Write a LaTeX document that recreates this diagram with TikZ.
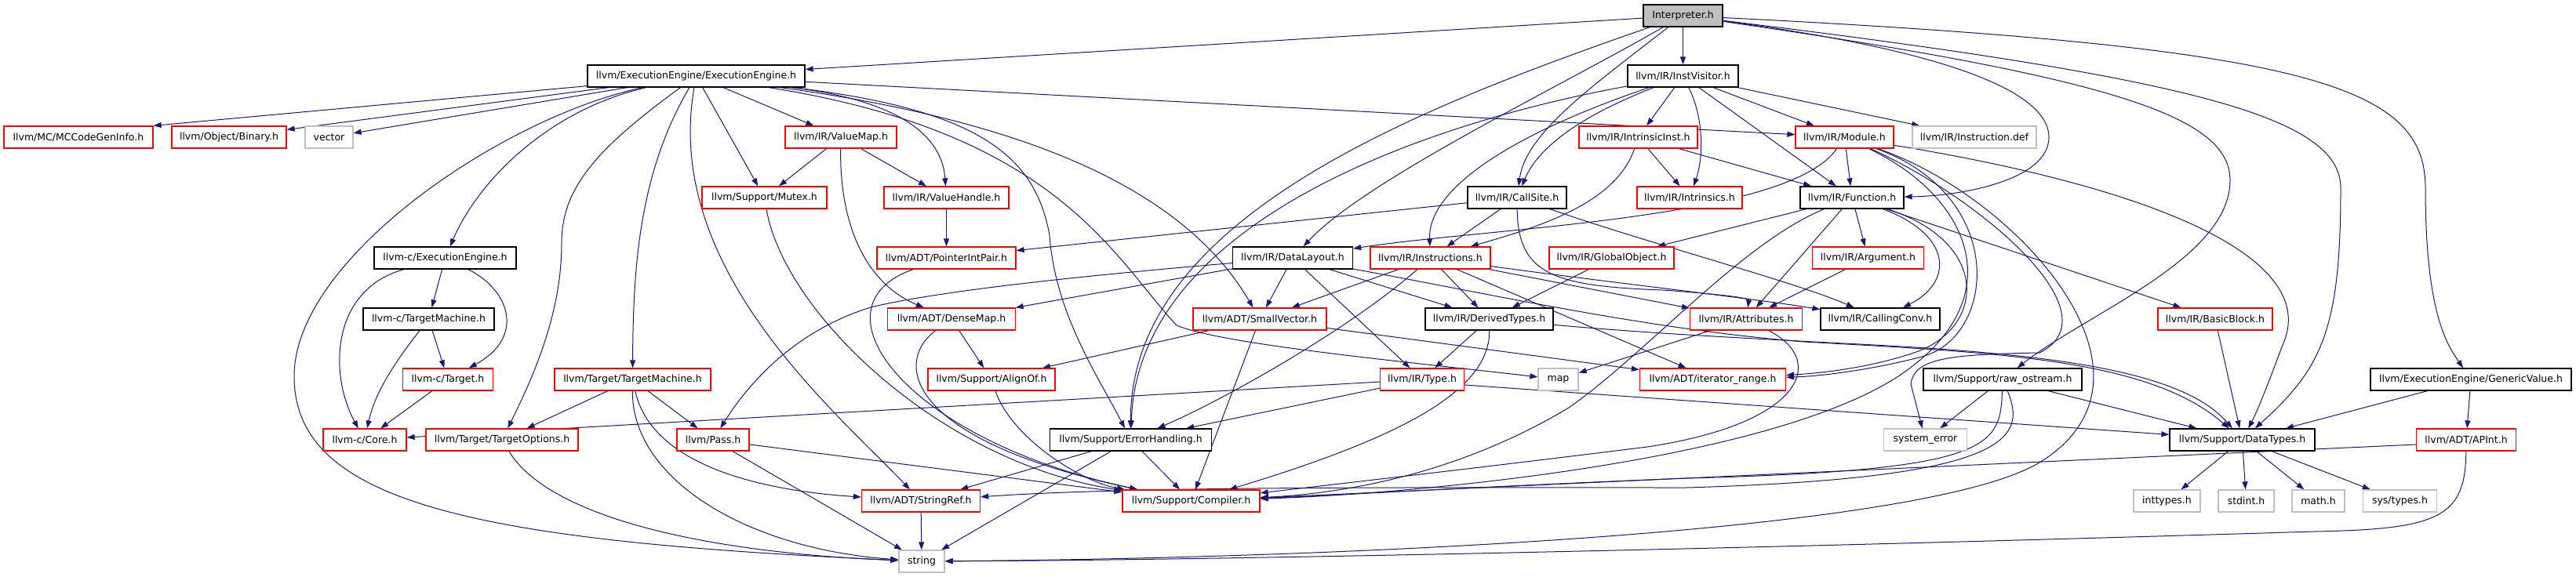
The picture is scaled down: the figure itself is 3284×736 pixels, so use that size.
\documentclass[tikz,border=0pt]{standalone}
\usepackage{fontspec}
\setmainfont{DejaVu Sans}
\usetikzlibrary{arrows.meta}
\definecolor{edgecol}{HTML}{191970}
\definecolor{grayb}{HTML}{BFBFBF}
\pgfdeclarelayer{bg}
\pgfsetlayers{bg,main}
\begin{document}
\begin{tikzpicture}[x=1pt,y=-1pt,
  box/.style={rectangle, minimum height=28pt, inner sep=0pt, fill=white, line width=1.3pt, font=\fontsize{12.5}{15}\selectfont, text=black},
  bk/.style={box, draw=black},
  rd/.style={box, draw=red},
  gy/.style={box, draw=grayb},
  root/.style={box, draw=black, fill=grayb},
  dep/.style={draw=edgecol, line width=1pt, -{Triangle[length=10pt,width=7pt]}}]
\useasboundingbox (0,0) rectangle (3284,736);
% nodes
\node[root, minimum width=101pt] (interp) at (2145.5,20) {Interpreter.h};
\node[bk, minimum width=277pt] (ee) at (887.5,97) {llvm/ExecutionEngine/ExecutionEngine.h};
\node[bk, minimum width=141pt] (iv) at (2145.5,97) {llvm/IR/InstVisitor.h};
\node[rd, minimum width=190pt] (mccg) at (100,175) {llvm/MC/MCCodeGenInfo.h};
\node[rd, minimum width=146pt] (bin) at (292,175) {llvm/Object/Binary.h};
\node[gy, minimum width=61pt] (vector) at (419.5,175) {vector};
\node[rd, minimum width=142pt] (vmap) at (1072,175) {llvm/IR/ValueMap.h};
\node[rd, minimum width=151pt] (iinst) at (2088.5,175) {llvm/IR/IntrinsicInst.h};
\node[rd, minimum width=125pt] (module) at (2351.5,175) {llvm/IR/Module.h};
\node[gy, minimum width=158pt] (idef) at (2517,175) {llvm/IR/Instruction.def};
\node[rd, minimum width=159pt] (mutex) at (974.5,252) {llvm/Support/Mutex.h};
\node[rd, minimum width=159pt] (vh) at (1206.5,252) {llvm/IR/ValueHandle.h};
\node[bk, minimum width=126pt] (cs) at (1934,252) {llvm/IR/CallSite.h};
\node[rd, minimum width=134pt] (intr) at (2154,252) {llvm/IR/Intrinsics.h};
\node[bk, minimum width=132pt] (func) at (2361,252) {llvm/IR/Function.h};
\node[bk, minimum width=181pt] (cee) at (567.5,329) {llvm-c/ExecutionEngine.h};
\node[rd, minimum width=177pt] (pip) at (1206.5,329) {llvm/ADT/PointerIntPair.h};
\node[bk, minimum width=153pt] (dl) at (1648,329) {llvm/IR/DataLayout.h};
\node[rd, minimum width=153pt] (instrs) at (1823.5,329) {llvm/IR/Instructions.h};
\node[rd, minimum width=159pt] (gobj) at (2054.5,329) {llvm/IR/GlobalObject.h};
\node[rd, minimum width=142pt] (arg) at (2381.5,329) {llvm/IR/Argument.h};
\node[bk, minimum width=167pt] (ctm) at (546.5,407) {llvm-c/TargetMachine.h};
\node[rd, minimum width=163pt] (dmap) at (1213,407) {llvm/ADT/DenseMap.h};
\node[rd, minimum width=170pt] (svec) at (1606,407) {llvm/ADT/SmallVector.h};
\node[bk, minimum width=163pt] (dt) at (1898.5,407) {llvm/IR/DerivedTypes.h};
\node[rd, minimum width=143pt] (attr) at (2226,407) {llvm/IR/Attributes.h};
\node[bk, minimum width=152pt] (cc) at (2397,407) {llvm/IR/CallingConv.h};
\node[rd, minimum width=146pt] (bb) at (2824,407) {llvm/IR/BasicBlock.h};
\node[rd, minimum width=115pt] (ctarget) at (571,484) {llvm-c/Target.h};
\node[rd, minimum width=199pt] (ttm) at (806.5,484) {llvm/Target/TargetMachine.h};
\node[rd, minimum width=162pt] (align) at (1264,484) {llvm/Support/AlignOf.h};
\node[rd, minimum width=107pt] (type) at (1813,484) {llvm/IR/Type.h};
\node[gy, minimum width=51pt] (map) at (1986.5,484) {map};
\node[rd, minimum width=186pt] (irange) at (2183.5,484) {llvm/ADT/iterator\_range.h};
\node[bk, minimum width=202pt] (ros) at (2553,484) {llvm/Support/raw\_ostream.h};
\node[bk, minimum width=256pt] (gv) at (3150,484) {llvm/ExecutionEngine/GenericValue.h};
\node[rd, minimum width=106pt] (core) at (465,561) {llvm-c/Core.h};
\node[rd, minimum width=194pt] (topt) at (640,561) {llvm/Target/TargetOptions.h};
\node[rd, minimum width=92pt] (pass) at (909,561) {llvm/Pass.h};
\node[bk, minimum width=206pt] (eh) at (1441.5,561) {llvm/Support/ErrorHandling.h};
\node[gy, minimum width=106pt] (syserr) at (2454.5,561) {system\_error};
\node[bk, minimum width=185pt] (dtypes) at (2858.5,561) {llvm/Support/DataTypes.h};
\node[rd, minimum width=127pt] (apint) at (3144,561) {llvm/ADT/APInt.h};
\node[rd, minimum width=151pt] (sref) at (1174,639) {llvm/ADT/StringRef.h};
\node[rd, minimum width=175pt] (comp) at (1518.5,639) {llvm/Support/Compiler.h};
\node[gy, minimum width=85pt] (inttypes) at (2762.5,639) {inttypes.h};
\node[gy, minimum width=71pt] (stdint) at (2863.5,639) {stdint.h};
\node[gy, minimum width=67pt] (math) at (2955.5,639) {math.h};
\node[gy, minimum width=94pt] (systypes) at (3059.5,639) {sys/types.h};
\node[gy, minimum width=58pt] (string) at (1175,716) {string};
\begin{pgfonlayer}{bg}
\fill[white] (0,0) rectangle (3284,736);
% Interpreter.h
\draw[dep] (interp) -- (ee);
\draw[dep] (interp) -- (iv);
\draw[dep] (interp) .. controls (1990,110) and (1740,230) .. (dl);
\draw[dep] (interp) .. controls (2030,110) and (1945,170) .. (cs);
\draw[dep] (interp) .. controls (1800,140) and (1440,280) .. (eh);
\draw[dep] (interp) .. controls (2450,60) and (2612,110) .. (2612,175) .. controls (2612,230) and (2500,250) .. (func);
\draw[dep] (interp) .. controls (2700,100) and (2843,150) .. (2843,230) .. controls (2843,330) and (2660,400) .. (ros);
\draw[dep] (interp) .. controls (2800,100) and (2984,150) .. (2984,240) .. controls (2984,420) and (2960,470) .. (dtypes);
\draw[dep] (interp) .. controls (2950,60) and (3092,110) .. (3092,240) .. controls (3092,400) and (3120,440) .. (gv);
% ExecutionEngine.h
\draw[dep] (ee) -- (mccg.north east);
\draw[dep] (ee) -- (bin);
\draw[dep] (ee) -- (vector);
\draw[dep] (ee) .. controls (700,140) and (610,230) .. (cee);
\draw[dep] (ee) .. controls (640,150) and (375,330) .. (375,480) .. controls (375,640) and (600,690) .. (string);
\draw[dep] (ee) .. controls (760,190) and (716,240) .. (716,310) .. controls (716,400) and (680,480) .. (topt);
\draw[dep] (ee) .. controls (815,220) and (807,340) .. (ttm);
\draw[dep] (ee) .. controls (845,340) and (1060,520) .. (sref);
\draw[dep] (ee) -- (mutex);
\draw[dep] (ee) -- (vmap);
\draw[dep] (ee) .. controls (1120,125) and (1200,160) .. (vh);
\draw[dep] (ee) -- (module);
\draw[dep] (ee) .. controls (1250,140) and (1320,200) .. (1338,300) .. controls (1345,400) and (1400,480) .. (eh);
\draw[dep] (ee) .. controls (1350,160) and (1520,260) .. (svec);
\draw[dep] (ee) .. controls (1350,170) and (1420,330) .. (1500,415) .. controls (1560,440) and (1800,462) .. (map);
% InstVisitor.h
\draw[dep] (iv) -- (iinst);
\draw[dep] (iv) .. controls (2172,150) and (2172,200) .. (intr);
\draw[dep] (iv) -- (module);
\draw[dep] (iv) -- (idef);
\draw[dep] (iv) -- (func);
\draw[dep] (iv) .. controls (2010,150) and (1960,190) .. (cs);
\draw[dep] (iv) .. controls (1930,170) and (1820,240) .. (instrs);
\draw[dep] (iv) .. controls (1800,160) and (1450,290) .. (eh);
% IntrinsicInst.h
\draw[dep] (iinst) -- (intr);
\draw[dep] (iinst) -- (func);
\draw[dep] (iinst) .. controls (2060,260) and (1960,290) .. (instrs);
% Module.h
\draw[dep] (module) -- (func);
\draw[dep] (module) .. controls (2280,280) and (1900,290) .. (dl);
\draw[dep] (module) .. controls (2560,250) and (2545,430) .. (2450,455) .. controls (2385,472) and (2320,480) .. (irange);
\draw[dep] (module) .. controls (2520,250) and (2700,400) .. (2600,450) .. controls (2480,452) and (2440,458) .. (2436,490) -- (syserr);
\draw[dep] (module) .. controls (2750,240) and (2960,330) .. (2910,440) .. controls (2895,480) and (2880,520) .. (dtypes);
\draw[dep] (module) .. controls (2510,250) and (2570,380) .. (2420,480) .. controls (2250,590) and (1800,630) .. (comp);
\draw[dep] (module) .. controls (2570,250) and (2780,480) .. (2600,590) .. controls (2450,680) and (1700,712) .. (string);
% ValueMap.h, Mutex.h, ValueHandle.h, PointerIntPair.h
\draw[dep] (vmap) -- (mutex);
\draw[dep] (vmap) -- (vh);
\draw[dep] (vmap) .. controls (1070,280) and (1100,360) .. (dmap);
\draw[dep] (mutex) .. controls (1000,400) and (1200,590) .. (comp);
\draw[dep] (vh) -- (pip);
\draw[dep] (pip) .. controls (1030,390) and (1150,560) .. (comp);
% CallSite.h
\draw[dep] (cs) -- (pip);
\draw[dep] (cs) -- (instrs);
\draw[dep] (cs) .. controls (1935,350) and (1980,365) .. (2120,370) .. controls (2190,375) and (2230,380) .. (attr);
\draw[dep] (cs) .. controls (2100,310) and (2290,360) .. (cc);
% Function.h
\draw[dep] (func) -- (gobj);
\draw[dep] (func) -- (attr);
\draw[dep] (func) .. controls (2220,310) and (2100,450) .. (2000,520) .. controls (1850,610) and (1700,630) .. (comp);
\draw[dep] (func) -- (arg);
\draw[dep] (func) .. controls (2490,300) and (2490,360) .. (cc);
\draw[dep] (func) .. controls (2540,310) and (2530,420) .. (2440,450) .. controls (2380,470) and (2320,476) .. (irange);
\draw[dep] (func) -- (bb);
% llvm-c
\draw[dep] (cee) .. controls (420,370) and (420,480) .. (core);
\draw[dep] (cee) -- (ctm);
\draw[dep] (cee) .. controls (650,370) and (670,430) .. (ctarget);
\draw[dep] (ctm) -- (ctarget);
\draw[dep] (ctm) .. controls (505,460) and (478,500) .. (core);
\draw[dep] (ctarget) -- (core);
% DataLayout.h
\draw[dep] (dl) -- (dmap);
\draw[dep] (dl) -- (svec);
\draw[dep] (dl) -- (dt);
\draw[dep] (dl) -- (type);
\draw[dep] (dl) .. controls (1400,350) and (1200,370) .. (1110,392) .. controls (1020,420) and (960,480) .. (pass);
\draw[dep] (dl) .. controls (1900,375) and (2100,420) .. (2300,436) .. controls (2550,450) and (2740,458) .. (dtypes);
% Instructions.h
\draw[dep] (instrs) -- (svec);
\draw[dep] (instrs) .. controls (1720,420) and (1560,510) .. (eh);
\draw[dep] (instrs) -- (dt);
\draw[dep] (instrs) -- (irange);
\draw[dep] (instrs) -- (attr);
\draw[dep] (instrs) .. controls (2050,360) and (2230,380) .. (cc);
% others
\draw[dep] (gobj) -- (dt);
\draw[dep] (arg) -- (attr);
\draw[dep] (dmap) -- (align);
\draw[dep] (dmap) .. controls (1140,460) and (1150,560) .. (comp);
\draw[dep] (svec) -- (align);
\draw[dep] (svec) -- (comp);
\draw[dep] (svec) -- (irange);
\draw[dep] (dt) -- (type);
\draw[dep] (dt) .. controls (1900,500) and (1780,560) .. (comp);
\draw[dep] (dt) .. controls (2100,425) and (2200,430) .. (2350,438) .. controls (2600,450) and (2780,470) .. (dtypes);
\draw[dep] (attr) -- (map);
\draw[dep] (attr) .. controls (2330,460) and (2300,540) .. (2100,570) .. controls (1900,595) and (1700,618) .. (comp);
\draw[dep] (bb) -- (dtypes);
\draw[dep] (type) -- (core);
\draw[dep] (type) -- (eh);
\draw[dep] ([yshift=-7pt]type.east) -- (dtypes);
\draw[dep] (ttm) -- (topt);
\draw[dep] (ttm) -- (pass);
\draw[dep] (ttm) .. controls (830,590) and (960,625) .. (sref);
\draw[dep] (ttm) .. controls (805,610) and (950,700) .. (string);
\draw[dep] (align) .. controls (1290,560) and (1380,615) .. (comp);
\draw[dep] (ros) -- (syserr);
\draw[dep] (ros) .. controls (2585,560) and (2560,610) .. (2150,622) .. controls (1800,622) and (1450,620) .. (sref);
\draw[dep] (ros) .. controls (2550,570) and (2540,600) .. (2150,610) .. controls (1900,620) and (1700,632) .. (comp);
\draw[dep] (ros) -- (dtypes);
\draw[dep] (gv) -- (dtypes);
\draw[dep] (gv) -- (apint);
\draw[dep] (topt) .. controls (700,660) and (900,705) .. (string);
\draw[dep] (pass) -- (comp);
\draw[dep] (pass) -- (string);
\draw[dep] (eh) -- (sref);
\draw[dep] (eh) -- (comp);
\draw[dep] (eh) -- (string);
\draw[dep] (dtypes) -- (inttypes);
\draw[dep] (dtypes) -- (stdint);
\draw[dep] (dtypes) -- (math);
\draw[dep] (dtypes) -- (systypes);
\draw[dep] ([yshift=-6pt]apint.west) -- (comp);
\draw[dep] (apint) .. controls (3143,660) and (3110,675) .. (2950,678) .. controls (2300,698) and (1600,714) .. (string);
\draw[dep] (sref) -- (string);
\end{pgfonlayer}
\end{tikzpicture}
\end{document}
